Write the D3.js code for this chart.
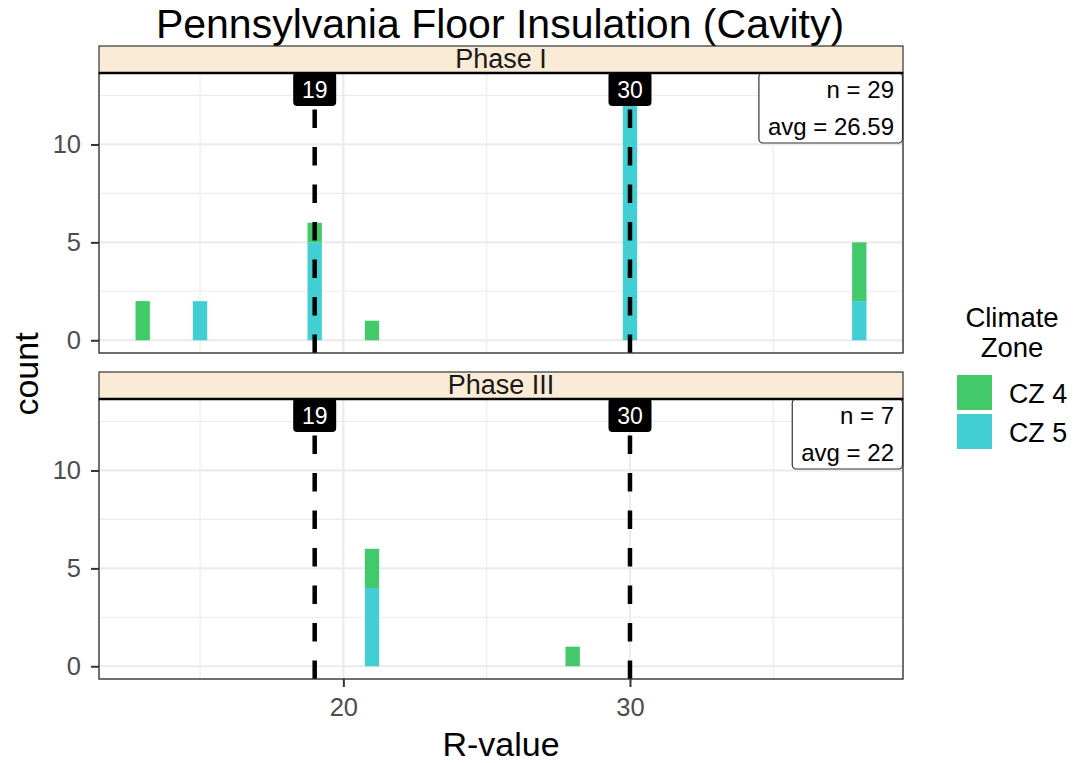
<!DOCTYPE html>
<html>
<head>
<meta charset="utf-8">
<script src="https://cdn.jsdelivr.net/npm/d3@7"></script>
<style>
  html, body { margin: 0; padding: 0; background: #fff; }
  svg { display: block; font-family: "Liberation Sans", Arial, Helvetica, sans-serif; }
</style>
</head>
<body>
<svg id="chart" width="1073" height="763"></svg>
<script>
// ---------------- data ----------------
const chartTitle = "Pennsylvania Floor Insulation (Cavity)";
const phases = ["Phase I", "Phase III"];
const zones = ["CZ 4", "CZ 5"];
const zoneColors = ["#41C96A", "#42CFD4"];

const phaseIBins = [13, 15, 19, 21, 30, 38];
const phaseICZ4  = [2, 0, 1, 1, 0, 3];
const phaseICZ5  = [0, 2, 5, 0, 13, 2];

const phaseIIIBins = [21, 28];
const phaseIIICZ4  = [2, 1];
const phaseIIICZ5  = [4, 0];

const refLines = [19, 30];
const xTicks = [20, 30];
const xMinorTicks = [15, 25, 35];
const yTicks = [0, 5, 10];
const yMinorTicks = [2.5, 7.5, 12.5];
const binWidth = 0.5;

// ---------------- build ----------------
function makeRows(bins, cz4, cz5) {
  return bins.map((b, i) => ({ x: b, "CZ 4": cz4[i], "CZ 5": cz5[i] }));
}
const panelsData = [
  makeRows(phaseIBins, phaseICZ4, phaseICZ5),
  makeRows(phaseIIIBins, phaseIIICZ4, phaseIIICZ5)
];

const svg = d3.select("#chart");
const font = "'Liberation Sans', Arial, Helvetica, sans-serif";

const panelLeft = 99, panelRight = 903;
const panelBoxes = [
  { stripTop: 46, top: 73, bottom: 353 },
  { stripTop: 372, top: 399, bottom: 679 }
];

const allBins = phaseIBins.concat(phaseIIIBins);
const xLo = d3.min(allBins) - binWidth / 2, xHi = d3.max(allBins) + binWidth / 2;
const xPad = (xHi - xLo) * 0.05;
const x = d3.scaleLinear().domain([xLo - xPad, xHi + xPad]).range([panelLeft, panelRight]);

const maxCount = d3.max(panelsData.flat(), d => d["CZ 4"] + d["CZ 5"]);
const yPad = maxCount * 0.05;

const stack = d3.stack().keys(["CZ 5", "CZ 4"]);
const colorOf = d3.scaleOrdinal().domain(zones).range(zoneColors);

// title
svg.append("text")
  .attr("x", 500).attr("y", 38)
  .attr("text-anchor", "middle")
  .attr("font-size", 41).attr("fill", "#000")
  .text(chartTitle);

panelsData.forEach((rows, pi) => {
  const box = panelBoxes[pi];
  const y = d3.scaleLinear().domain([-yPad, maxCount + yPad]).range([box.bottom, box.top]);
  const g = svg.append("g");

  // strip
  g.append("rect")
    .attr("x", panelLeft).attr("y", box.stripTop)
    .attr("width", panelRight - panelLeft).attr("height", box.top - box.stripTop)
    .attr("fill", "#FAEBD7").attr("stroke", "#333").attr("stroke-width", 1.2);
  g.append("text")
    .attr("x", (panelLeft + panelRight) / 2).attr("y", box.top - 5)
    .attr("text-anchor", "middle").attr("font-size", 27).attr("fill", "#1a1a1a")
    .text(phases[pi]);

  // panel background
  g.append("rect")
    .attr("x", panelLeft).attr("y", box.top)
    .attr("width", panelRight - panelLeft).attr("height", box.bottom - box.top)
    .attr("fill", "#fff");

  // minor grid
  g.selectAll(".vminor").data(xMinorTicks).enter().append("line")
    .attr("x1", d => x(d)).attr("x2", d => x(d))
    .attr("y1", box.top).attr("y2", box.bottom)
    .attr("stroke", "#EBEBEB").attr("stroke-width", 1.1);
  g.selectAll(".hminor").data(yMinorTicks).enter().append("line")
    .attr("x1", panelLeft).attr("x2", panelRight)
    .attr("y1", d => y(d)).attr("y2", d => y(d))
    .attr("stroke", "#EBEBEB").attr("stroke-width", 1.1);
  // major grid
  g.selectAll(".vmajor").data(xTicks).enter().append("line")
    .attr("x1", d => x(d)).attr("x2", d => x(d))
    .attr("y1", box.top).attr("y2", box.bottom)
    .attr("stroke", "#EBEBEB").attr("stroke-width", 2.2);
  g.selectAll(".hmajor").data(yTicks).enter().append("line")
    .attr("x1", panelLeft).attr("x2", panelRight)
    .attr("y1", d => y(d)).attr("y2", d => y(d))
    .attr("stroke", "#EBEBEB").attr("stroke-width", 2.2);

  // bars (stacked: CZ 5 bottom, CZ 4 top)
  const series = stack(rows);
  series.forEach(s => {
    g.selectAll(null).data(s.filter(d => d[1] > d[0])).enter().append("rect")
      .attr("x", d => x(d.data.x - binWidth / 2))
      .attr("width", d => x(d.data.x + binWidth / 2) - x(d.data.x - binWidth / 2))
      .attr("y", d => y(d[1]))
      .attr("height", d => y(d[0]) - y(d[1]))
      .attr("fill", colorOf(s.key));
  });

  // reference dashed lines (drawn from bottom up)
  g.selectAll(".vref").data(refLines).enter().append("line")
    .attr("x1", d => x(d)).attr("x2", d => x(d))
    .attr("y1", box.bottom).attr("y2", box.top)
    .attr("stroke", "#000").attr("stroke-width", 4.5)
    .attr("stroke-dasharray", "18.5,19");

  // ref labels
  refLines.forEach(v => {
    const lw = 43, lh = 34;
    g.append("rect")
      .attr("x", x(v) - lw / 2).attr("y", box.top - 1)
      .attr("width", lw).attr("height", lh)
      .attr("rx", 4).attr("ry", 4)
      .attr("fill", "#000");
    g.append("text")
      .attr("x", x(v)).attr("y", box.top + 24.5)
      .attr("text-anchor", "middle").attr("font-size", 23).attr("fill", "#fff")
      .text(String(v));
  });

  // annotation box
  const n = d3.sum(rows, d => d["CZ 4"] + d["CZ 5"]);
  const avg = d3.sum(rows, d => d.x * (d["CZ 4"] + d["CZ 5"])) / n;
  const avgTxt = String(Math.round(avg * 100) / 100);
  const ann = g.append("g");
  const t1 = ann.append("text")
    .attr("x", panelRight - 9).attr("y", box.top + 25)
    .attr("text-anchor", "end").attr("font-size", 24).attr("fill", "#000")
    .text("n = " + n);
  const t2 = ann.append("text")
    .attr("x", panelRight - 9).attr("y", box.top + 62)
    .attr("text-anchor", "end").attr("font-size", 24).attr("fill", "#000")
    .text("avg = " + avgTxt);
  const w = Math.max(t1.node().getComputedTextLength(), t2.node().getComputedTextLength()) + 18;
  ann.insert("rect", "text")
    .attr("x", panelRight - w).attr("y", box.top)
    .attr("width", w - 0.5).attr("height", 70)
    .attr("rx", 4).attr("ry", 4)
    .attr("fill", "#fff").attr("stroke", "#333").attr("stroke-width", 1.2);

  // panel border
  g.append("rect")
    .attr("x", panelLeft).attr("y", box.top)
    .attr("width", panelRight - panelLeft).attr("height", box.bottom - box.top)
    .attr("fill", "none").attr("stroke", "#333").attr("stroke-width", 1.4);
  // thick strip-panel separator
  g.append("line")
    .attr("x1", panelLeft).attr("x2", panelRight)
    .attr("y1", box.top).attr("y2", box.top)
    .attr("stroke", "#000").attr("stroke-width", 2.6);

  // y axis
  const yAxis = d3.axisLeft(y).tickValues(yTicks).tickSize(8).tickPadding(10).tickFormat(d3.format("d"));
  const ya = svg.append("g").attr("transform", `translate(${panelLeft},0)`).call(yAxis);
  ya.select(".domain").remove();
  ya.selectAll(".tick line").attr("stroke", "#333").attr("stroke-width", 2);
  ya.selectAll(".tick text").attr("font-size", 25.5).attr("fill", "#4D4D4D").attr("font-family", font);

  if (pi === panelsData.length - 1) {
    const xAxis = d3.axisBottom(x).tickValues(xTicks).tickSize(8).tickPadding(11).tickFormat(d3.format("d"));
    const xa = svg.append("g").attr("transform", `translate(0,${box.bottom})`).call(xAxis);
    xa.select(".domain").remove();
    xa.selectAll(".tick line").attr("stroke", "#333").attr("stroke-width", 2);
    xa.selectAll(".tick text").attr("font-size", 25.5).attr("fill", "#4D4D4D").attr("font-family", font);
  }
});

// axis titles
svg.append("text")
  .attr("x", 501).attr("y", 756)
  .attr("text-anchor", "middle").attr("font-size", 34).attr("fill", "#000")
  .text("R-value");
svg.append("text")
  .attr("transform", "translate(38,374) rotate(-90)")
  .attr("text-anchor", "middle").attr("font-size", 34).attr("fill", "#000")
  .text("count");

// legend
const lg = svg.append("g");
lg.append("text").attr("x", 1012).attr("y", 327)
  .attr("text-anchor", "middle").attr("font-size", 27.5).attr("fill", "#000").text("Climate");
lg.append("text").attr("x", 1012).attr("y", 357)
  .attr("text-anchor", "middle").attr("font-size", 27.5).attr("fill", "#000").text("Zone");
zones.forEach((z, i) => {
  const top = 375 + i * 39;
  lg.append("rect").attr("x", 957).attr("y", top).attr("width", 35).attr("height", 35)
    .attr("fill", colorOf(z));
  lg.append("text").attr("x", 1009).attr("y", top + 28)
    .attr("font-size", 26.8).attr("fill", "#000").text(z);
});
</script>
</body>
</html>
